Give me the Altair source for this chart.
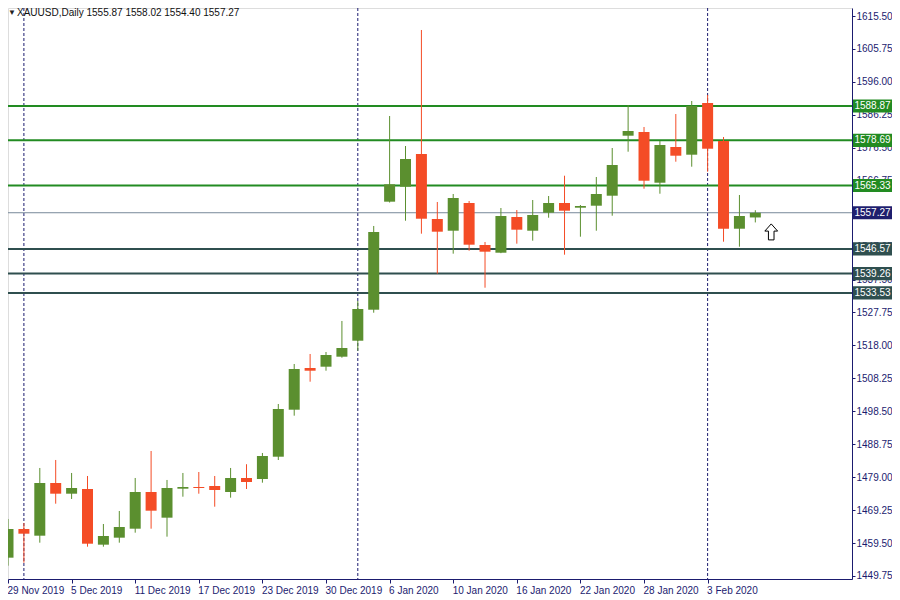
import altair as alt
import pandas as pd

# ---------------- data ----------------
symbol = "XAUUSD,Daily"
dates = ["29 Nov 2019", "2 Dec 2019", "3 Dec 2019", "4 Dec 2019", "5 Dec 2019", "6 Dec 2019",
         "9 Dec 2019", "10 Dec 2019", "11 Dec 2019", "12 Dec 2019", "13 Dec 2019", "16 Dec 2019",
         "17 Dec 2019", "18 Dec 2019", "19 Dec 2019", "20 Dec 2019", "23 Dec 2019", "24 Dec 2019",
         "26 Dec 2019", "27 Dec 2019", "30 Dec 2019", "31 Dec 2019", "2 Jan 2020", "3 Jan 2020",
         "6 Jan 2020", "7 Jan 2020", "8 Jan 2020", "9 Jan 2020", "10 Jan 2020", "13 Jan 2020",
         "14 Jan 2020", "15 Jan 2020", "16 Jan 2020", "17 Jan 2020", "20 Jan 2020", "21 Jan 2020",
         "22 Jan 2020", "23 Jan 2020", "24 Jan 2020", "27 Jan 2020", "28 Jan 2020", "29 Jan 2020",
         "30 Jan 2020", "31 Jan 2020", "3 Feb 2020", "4 Feb 2020", "5 Feb 2020", "6 Feb 2020"]
opens = [1455.17, 1463.66, 1461.68, 1477.28, 1474.11, 1475.50, 1459.02, 1461.09, 1463.75, 1474.61,
         1467.01, 1475.59, 1476.09, 1476.39, 1474.61, 1478.76, 1478.46, 1485.06, 1498.97, 1511.31,
         1511.70, 1514.66, 1519.39, 1528.57, 1560.54, 1564.98, 1574.65, 1555.42, 1551.95, 1560.15,
         1547.72, 1545.44, 1556.01, 1551.95, 1557.28, 1560.15, 1558.76, 1559.35, 1562.31, 1580.07,
         1581.17, 1566.16, 1576.73, 1574.45, 1589.75, 1578.50, 1552.54, 1555.87]
highs = [1466.62, 1465.44, 1481.72, 1484.09, 1480.24, 1479.35, 1465.14, 1468.99, 1478.76, 1486.75,
         1478.17, 1480.24, 1480.53, 1479.35, 1481.72, 1482.83, 1486.16, 1500.66, 1512.50, 1515.46,
         1516.05, 1525.23, 1531.14, 1553.35, 1585.90, 1577.02, 1611.36, 1560.45, 1562.82, 1560.74,
         1548.61, 1558.67, 1558.08, 1561.04, 1562.22, 1568.23, 1559.56, 1567.85, 1576.43, 1589.16,
         1582.65, 1578.50, 1586.49, 1590.34, 1592.12, 1579.69, 1562.52, 1558.02]
lows = [1452.80, 1453.68, 1459.61, 1471.15, 1472.54, 1458.42, 1458.42, 1459.61, 1462.57, 1463.75,
        1461.39, 1473.22, 1474.11, 1470.26, 1472.93, 1475.50, 1477.37, 1484.08, 1497.20, 1507.26,
        1510.51, 1514.36, 1516.43, 1527.68, 1560.30, 1554.91, 1551.07, 1539.23, 1545.15, 1546.03,
        1535.08, 1545.30, 1548.11, 1549.00, 1555.80, 1544.85, 1550.18, 1551.95, 1556.39, 1575.34,
        1564.38, 1562.90, 1572.38, 1570.90, 1569.42, 1548.70, 1547.22, 1554.40]
closes = [1463.66, 1462.27, 1477.28, 1474.11, 1475.80, 1459.31, 1461.59, 1464.25, 1474.61, 1469.08,
          1475.80, 1476.09, 1475.80, 1475.21, 1478.76, 1477.57, 1485.27, 1499.18, 1511.02, 1510.51,
          1515.16, 1517.23, 1528.78, 1551.57, 1565.69, 1573.17, 1555.50, 1551.66, 1561.63, 1547.81,
          1545.74, 1556.30, 1552.25, 1556.60, 1560.15, 1557.87, 1559.26, 1562.82, 1571.40, 1581.46,
          1566.75, 1577.32, 1574.15, 1588.86, 1576.22, 1552.54, 1556.30, 1557.27]

x_tick_index = [0, 4, 8, 12, 16, 20, 24, 28, 32, 36, 40, 44]
x_tick_labels = ["29 Nov 2019", "5 Dec 2019", "11 Dec 2019", "17 Dec 2019", "23 Dec 2019",
                 "30 Dec 2019", "6 Jan 2020", "10 Jan 2020", "16 Jan 2020", "22 Jan 2020",
                 "28 Jan 2020", "3 Feb 2020"]
y_ticks = [1449.75, 1459.50, 1469.25, 1479.00, 1488.75, 1498.50, 1508.25, 1518.00, 1527.75,
           1537.50, 1547.25, 1557.00, 1566.75, 1576.50, 1586.25, 1596.00, 1605.75, 1615.50]
separator_index = [1, 22, 44]
level_values = [1588.87, 1578.69, 1565.33, 1546.57, 1539.26, 1533.53]
level_kinds = ["res", "res", "res", "sup", "sup", "sup"]
bid_price = 1557.27
arrow_index = [48]
arrow_price = [1551.6]

# ---------------- style ----------------
GREEN = "#5b8f2f"
RED = "#f44c26"
NAVY = "#1b1b6f"
LEVEL_GREEN = "#228b22"
LEVEL_DARK = "#2f4f4f"
BID_LINE = "#778899"
BID_BOX = "#1e1e6e"
FONT = "Liberation Sans"

W, H = 844, 571
RIGHT = 40
Y_DOM = [1448.86, 1617.87]
X_DOM = [0, 53.08]
BOX_HALF = 1.95

df = pd.DataFrame({"i": list(range(len(opens))), "date": dates, "open": opens,
                   "high": highs, "low": lows, "close": closes})
df["c"] = [GREEN if c >= o else RED for o, c in zip(opens, closes)]
df["blo"] = df[["open", "close"]].min(axis=1)
df["bhi"] = df[["open", "close"]].max(axis=1)

label_arr = [""] * len(dates)
for k, t in zip(x_tick_index, x_tick_labels):
    label_arr[k] = t
label_expr = "[" + ",".join("'" + s + "'" for s in label_arr) + "][datum.value]"

xs = alt.Scale(domain=X_DOM, nice=False, zero=False, padding=0)
ys = alt.Scale(domain=Y_DOM, nice=False, zero=False, padding=0)
col = alt.Color("c:N", scale=None, legend=None)

x_axis = alt.Axis(values=x_tick_index, labelExpr=label_expr, title=None, grid=False,
                  labelAlign="left", labelOffset=-1, labelPadding=2, tickSize=4,
                  tickColor=NAVY, labelColor=NAVY, domainColor=NAVY, labelFont=FONT,
                  labelFontSize=10, labelBaseline="top", labelOverlap=False, labelBound=False)
y_axis = alt.Axis(values=y_ticks, format=".2f", orient="right", title=None, grid=False,
                  tickSize=3, labelPadding=1, tickColor=NAVY, labelColor=NAVY, domainColor=NAVY,
                  labelFont=FONT, labelFontSize=10, labelOverlap=False, labelBound=False)


def X(field):
    return alt.X(field, scale=xs, axis=x_axis)


def Y(field):
    return alt.Y(field, scale=ys, axis=y_axis)


base = alt.Chart(df)

wicks = base.mark_rule(strokeWidth=1, clip=True).encode(
    x=X("i:Q"), y=Y("low:Q"), y2="high:Q", color=col,
)
bodies = base.mark_bar(size=11, clip=True).encode(
    x=X("i:Q"), y=Y("blo:Q"), y2="bhi:Q", color=col,
)

sep_df = pd.DataFrame({"i": separator_index})
separators = alt.Chart(sep_df).mark_rule(strokeDash=[3, 2], color=NAVY, strokeWidth=1).encode(
    x=X("i:Q")
)

lv = pd.DataFrame({"v": level_values, "kind": level_kinds})
lv["c"] = [LEVEL_GREEN if k == "res" else LEVEL_DARK for k in level_kinds]
lv["lo"] = lv["v"] - BOX_HALF
lv["hi"] = lv["v"] + BOX_HALF
level_lines = alt.Chart(lv).mark_rule(strokeWidth=2).encode(y=Y("v:Q"), color=col)
level_boxes = alt.Chart(lv).mark_rect().encode(
    x=alt.value(W + 1), x2=alt.value(W + RIGHT), y=Y("lo:Q"), y2="hi:Q", color=col
)
level_text = alt.Chart(lv).mark_text(color="white", font=FONT, fontSize=10, align="center",
                                     baseline="middle").encode(
    x=alt.value(W + (RIGHT + 1) / 2), y=Y("v:Q"), text=alt.Text("v:Q", format=".2f")
)

bid_df = pd.DataFrame({"v": [bid_price], "lo": [bid_price - BOX_HALF], "hi": [bid_price + BOX_HALF]})
bid_line = alt.Chart(bid_df).mark_rule(strokeWidth=1, color=BID_LINE).encode(y=Y("v:Q"))
bid_box = alt.Chart(bid_df).mark_rect(color=BID_BOX).encode(
    x=alt.value(W + 1), x2=alt.value(W + RIGHT), y=Y("lo:Q"), y2="hi:Q"
)
bid_text = alt.Chart(bid_df).mark_text(color="white", font=FONT, fontSize=10, align="center",
                                       baseline="middle").encode(
    x=alt.value(W + (RIGHT + 1) / 2), y=Y("v:Q"), text=alt.Text("v:Q", format=".2f")
)

arrow_df = pd.DataFrame({"i": arrow_index, "p": arrow_price})
arrow = alt.Chart(arrow_df).mark_point(
    shape="M0,-1 L0.8,-0.1 L0.35,-0.1 L0.35,1 L-0.35,1 L-0.35,-0.1 L-0.8,-0.1 Z",
    size=256, filled=True, fill="white", stroke="black", strokeWidth=1, opacity=1
).encode(x=X("i:Q"), y=Y("p:Q"))

last = df.iloc[-1]
header = f"{symbol}  {last['open']:.2f} {last['high']:.2f} {last['low']:.2f} {last['close']:.2f}"
hdr_df = pd.DataFrame({"t": [header]})
tri = alt.Chart(hdr_df).mark_text(text="▼", font=FONT, fontSize=8, color="#222",
                                  align="left", baseline="middle").encode(
    x=alt.value(0), y=alt.value(4.5))
title = alt.Chart(hdr_df).mark_text(font=FONT, fontSize=10, color="#111", align="left",
                                    baseline="middle").encode(
    x=alt.value(9), y=alt.value(4.5), text="t:N")

chart = alt.layer(
    separators, level_lines, bid_line, wicks, bodies, arrow,
    level_boxes, level_text, bid_box, bid_text, tri, title
).properties(
    width=W, height=H,
    autosize=alt.AutoSizeParams(type="none"),
    padding={"left": 0, "top": 0, "right": RIGHT, "bottom": 18},
).configure_view(
    stroke=NAVY, strokeWidth=1
).configure_axis(
    labelOverlap=False
).configure(background="white")

chart.save("out.html", embed_options={"renderer": "svg", "actions": False})
